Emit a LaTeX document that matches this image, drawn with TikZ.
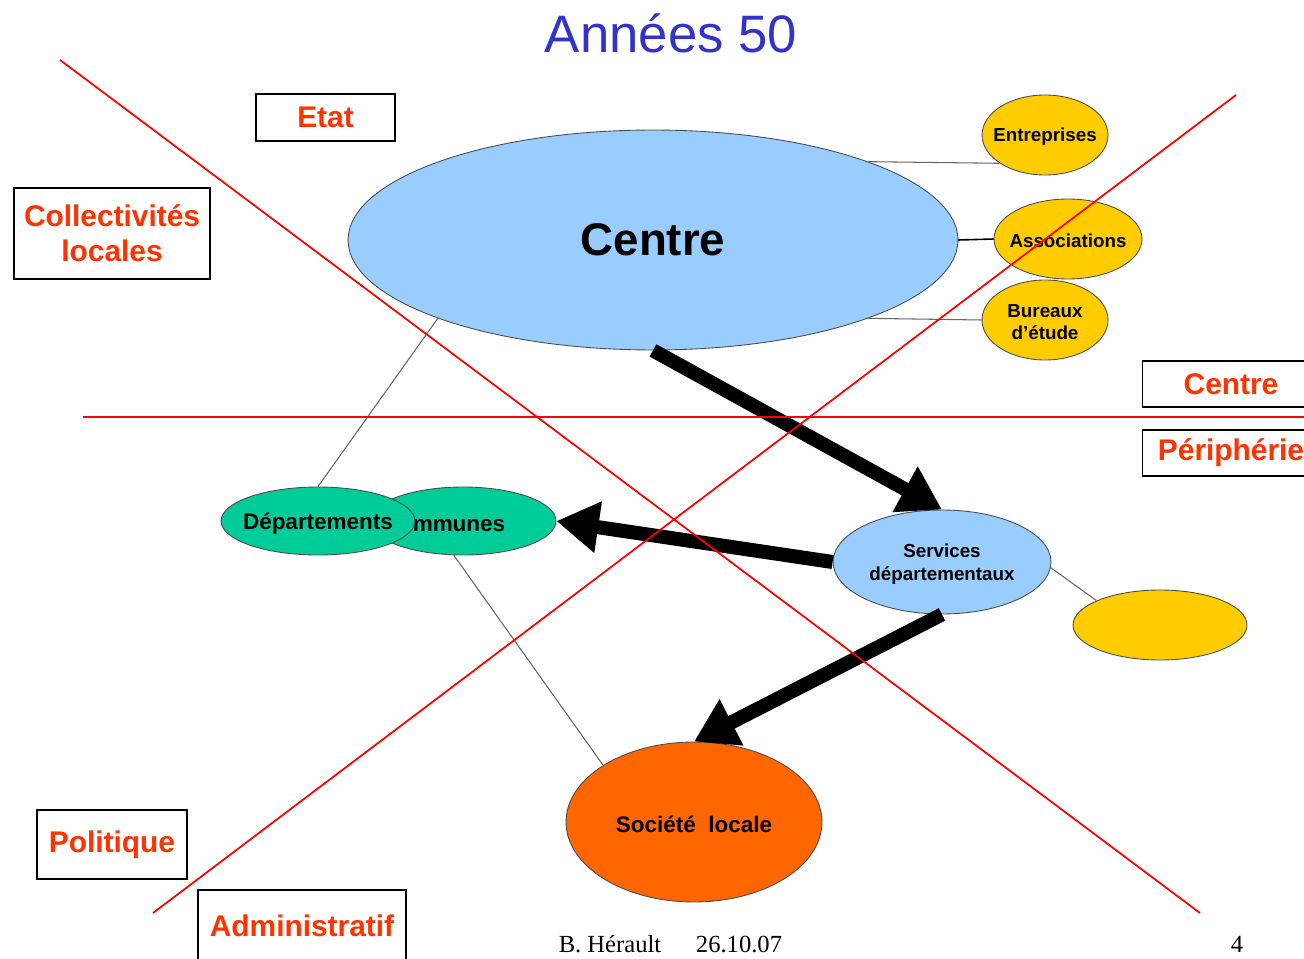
\documentclass[tikz,border=0pt]{standalone}
\usepackage{fontspec}
\setmainfont{Liberation Sans}
\newfontfamily\footfont{Liberation Serif}
\usetikzlibrary{arrows.meta,shapes.geometric}

\definecolor{titleblue}{RGB}{51,51,204}
\definecolor{boxred}{RGB}{255,51,0}
\definecolor{skyblue}{RGB}{153,204,255}
\definecolor{gold}{RGB}{255,204,0}
\definecolor{seagreen}{RGB}{0,204,153}
\definecolor{orangefill}{RGB}{255,102,0}

\begin{document}
\begin{tikzpicture}[x=0.02cm,y=-0.02cm,
    oval/.style={ellipse,draw=black!70,line width=0.5pt,inner sep=0pt},
    tag/.style={draw=black,line width=0.8pt,fill=white,text=boxred,align=center,
      font=\fontsize{17}{20}\selectfont\bfseries},
    small/.style={font=\fontsize{10.7}{13}\selectfont\bfseries,align=center,yshift=-1.2pt},
    mid/.style={font=\fontsize{12.8}{15}\selectfont\bfseries,yshift=-1.5pt},
    foot/.style={font=\footfont\fontsize{14}{17}\selectfont},
    link/.style={draw=black!60,line width=0.6pt},
    bigarrow/.style={line width=8pt,-{Triangle[length=24pt,width=28pt]}},
    divide/.style={red,line width=1pt}]

  \useasboundingbox (0,0) rectangle (1304,959);
  \clip (0,0) rectangle (1304,959);

  % the state
  \node[oval,fill=skyblue,minimum width=12.2cm,minimum height=4.4cm,
    font=\fontsize{26}{30}\selectfont\bfseries] (centre) at (653,240) {Centre};
  \node[oval,fill=gold,minimum width=2.52cm,minimum height=1.6cm,
    label={[small]center:Entreprises}] (ent) at (1045,135) {};
  \node[oval,fill=gold,minimum width=2.96cm,minimum height=1.6cm,
    label={[small]center:Associations}] (asso) at (1068,239) {};
  \node[oval,fill=gold,minimum width=2.52cm,minimum height=1.6cm,
    label={[small]center:{Bureaux\\d’étude}}] (bur) at (1045,320) {};

  % the periphery
  \node[oval,fill=seagreen,minimum width=3.72cm,minimum height=1.36cm,
    label={[mid,xshift=-0.38cm]center:Communes}] (com) at (463,521) {};
  \node[oval,fill=seagreen,minimum width=3.88cm,minimum height=1.36cm,
    label={[mid]center:Départements}] (dep) at (318,521) {};
  \node[oval,fill=skyblue,minimum width=4.36cm,minimum height=2.08cm,
    label={[small]center:{Services\\départementaux}}] (srv) at (942,562) {};
  \node[oval,fill=gold,minimum width=3.48cm,minimum height=1.4cm] (yel) at (1160,625) {};
  \node[oval,fill=orangefill,minimum width=5.12cm,minimum height=3.2cm,
    label={[mid]center:Société\ \ locale}] (soc) at (694,822) {};

  % thin links
  \draw[link] (centre.20) -- (ent.212);
  \draw[black,line width=0.9pt] (centre.east) -- (asso.west);
  \draw[link] (centre.-20) -- (bur.west);
  \draw[link] (centre.200) -- (dep.north);
  \draw[link] (com.-105) -- (soc.148);
  \draw[link] (srv.-3) -- (yel.159);

  % big arrows
  \draw[bigarrow] (centre.south) -- (srv.north);
  \draw[bigarrow] (srv.west) -- (com.east);
  \draw[bigarrow] (srv.south) -- (soc.north);

  % dividing lines
  \draw[divide] (60,60) -- (1200,913);
  \draw[divide] (1236,95) -- (153,913);
  \draw[divide] (83,417) -- (1304,417);

  % tags
  \node[tag,minimum width=2.78cm,minimum height=0.94cm] (etat) at (325.5,117.5) {Etat};
  \node[tag,minimum width=3.92cm,minimum height=1.82cm] (coll) at (112,233.5) {Collectivités\\locales};
  \node[tag,minimum width=3.54cm,minimum height=0.92cm] (ctag) at (1231,384) {Centre};
  \node[tag,minimum width=3.54cm,minimum height=0.92cm] (ptag) at (1231,453) {Périphérie};
  \node[tag,minimum width=3.0cm,minimum height=1.38cm] (pol) at (112,844.5) {Politique};
  \node[tag,minimum width=4.16cm,minimum height=1.44cm] (adm) at (302,926) {Administratif};

  % title and footer
  \node[font=\fontsize{30}{36}\selectfont,text=titleblue] (title) at (671,33) {Années 50};
  \node[foot] (author) at (610,944) {B. Hérault};
  \node[foot] (date) at (739,944) {26.10.07};
  \node[foot] (page) at (1237,944) {4};
\end{tikzpicture}
\end{document}
